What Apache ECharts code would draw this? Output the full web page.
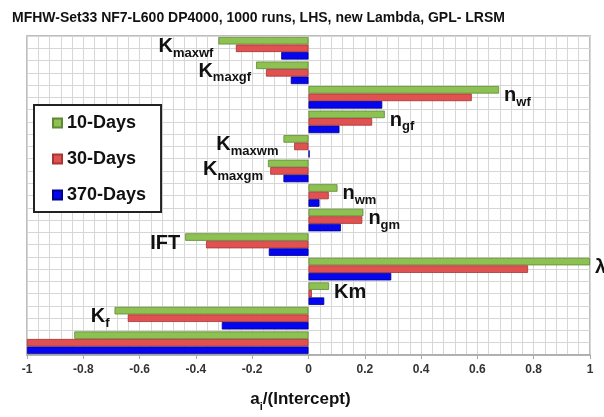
<!DOCTYPE html>
<html>
<head>
<meta charset="utf-8">
<script src="https://cdn.jsdelivr.net/npm/echarts@6/dist/echarts.min.js"></script>
<style>
  html, body { margin: 0; padding: 0; background: #fff; }
  #chart { width: 604px; height: 417px; }
</style>
</head>
<body>
<div id="chart"></div>
<script>
// Sensitivity coefficients a_i / intercept, one group of bars per parameter (top to bottom)
const parameters = ['K_maxwf', 'K_maxgf', 'n_wf', 'n_gf', 'K_maxwm', 'K_maxgm', 'n_wm', 'n_gm', 'IFT', 'λ', 'Km', 'K_f', ''];
const days10  = [-0.320, -0.186, 0.677, 0.271, -0.089, -0.144, 0.103, 0.195, -0.438, 1.000, 0.073, -0.689, -0.832];
const days30  = [-0.258, -0.151, 0.580, 0.226, -0.051, -0.136, 0.072, 0.191, -0.364, 0.780, 0.012, -0.642, -1.000];
const days370 = [-0.097, -0.063, 0.262, 0.110,  0.004, -0.089, 0.039, 0.115, -0.141, 0.294, 0.056, -0.308, -1.000];
const seriesNames = ['10-Days', '30-Days', '370-Days'];
const xTicks = { min: -1, max: 1, step: 0.2 };

const FONT = 'Liberation Sans, Arial, sans-serif';

// "K_maxwf" -> K with subscript "maxwf"
function richName(name) {
  if (!name) return '';
  const parts = name.split('_');
  if (parts.length === 1) return '{m|' + parts[0] + '}';
  return '{m|' + parts[0] + '}{s|' + parts[1] + '}';
}

const nameRich = {
  m: { fontFamily: FONT, fontWeight: 'bold', fontSize: 20, lineHeight: 22, color: '#111', verticalAlign: 'top' },
  s: { fontFamily: FONT, fontWeight: 'bold', fontSize: 13, lineHeight: 13, color: '#111', verticalAlign: 'top', padding: [10, 0, 0, 0] }
};

const chart = echarts.init(document.getElementById('chart'), null, { renderer: 'canvas' });

function barSeries(name, values, color, border, withLabels) {
  return {
    name: name,
    type: 'bar',
    yAxisIndex: 0,
    barGap: '0%',
    barCategoryGap: '8%',
    itemStyle: { color: color, borderColor: border, borderWidth: 0.8 },
    emphasis: { disabled: true },
    data: values.map(v => {
      const item = { value: v };
      if (withLabels) item.label = { position: v < 0 ? 'left' : 'right' };
      return item;
    }),
    label: withLabels ? {
      show: true,
      distance: 5,
      offset: [0, 7],
      formatter: p => richName(parameters[p.dataIndex]),
      rich: nameRich
    } : { show: false }
  };
}

chart.setOption({
  animation: false,
  backgroundColor: '#fff',
  title: {
    text: 'MFHW-Set33 NF7-L600 DP4000, 1000 runs, LHS, new Lambda, GPL- LRSM',
    left: 12,
    top: 11,
    padding: 0,
    textStyle: { fontFamily: FONT, fontWeight: 'bold', fontSize: 14, color: '#111' }
  },
  legend: {
    data: seriesNames,
    orient: 'vertical',
    left: 34,
    top: 105,
    padding: [9, 15, 8, 18],
    itemGap: 18,
    itemWidth: 9,
    itemHeight: 9,
    icon: 'rect',
    backgroundColor: '#fff',
    borderColor: '#222',
    borderWidth: 2,
    textStyle: { fontFamily: FONT, fontWeight: 'bold', fontSize: 18, color: '#111' }
  },
  grid: {
    left: 27, right: 14, top: 36, bottom: 58,
    show: true,
    borderColor: '#a8a8a8',
    borderWidth: 1.5
  },
  xAxis: {
    type: 'value',
    min: xTicks.min,
    max: xTicks.max,
    interval: xTicks.step,
    axisLine: { show: true, onZero: false, lineStyle: { color: '#a8a8a8', width: 1.5 } },
    axisTick: { show: true, length: 4, lineStyle: { color: '#a8a8a8' } },
    axisLabel: { margin: 9, fontFamily: FONT, fontWeight: 'bold', fontSize: 12, color: '#333' },
    splitLine: { show: true, lineStyle: { color: '#d6d6d6', width: 1 } },
    minorTick: { show: false, splitNumber: 5 },
    minorSplitLine: { show: true, lineStyle: { color: '#d6d6d6', width: 1 } },
    name: '{a|a}{i|i}{a|/(Intercept)}',
    nameLocation: 'middle',
    nameGap: 36,
    nameTextStyle: {
      padding: [0, 16, 0, 0],
      rich: {
        a: { fontFamily: FONT, fontWeight: 'bold', fontSize: 17, lineHeight: 19, color: '#111', verticalAlign: 'top' },
        i: { fontFamily: FONT, fontWeight: 'bold', fontSize: 11, lineHeight: 11, color: '#111', verticalAlign: 'top', padding: [10, 0, 0, 0] }
      }
    }
  },
  yAxis: [
    {
      type: 'category',
      data: parameters,
      inverse: true,
      axisLine: { show: false },
      axisTick: { show: false },
      axisLabel: { show: false },
      splitLine: { show: false }
    },
    {
      // half-category ruling of the background grid
      type: 'value',
      min: 0,
      max: parameters.length * 2,
      interval: 1,
      position: 'left',
      axisLine: { show: false },
      axisTick: { show: false },
      axisLabel: { show: false },
      splitLine: { show: true, lineStyle: { color: '#d6d6d6', width: 1 } }
    }
  ],
  series: [
    barSeries(seriesNames[0], days10, '#8DC152', '#5f8a33', true),
    barSeries(seriesNames[1], days30, '#E05252', '#a83434', false),
    barSeries(seriesNames[2], days370, '#0505F0', '#00008a', false)
  ]
});
</script>
</body>
</html>
